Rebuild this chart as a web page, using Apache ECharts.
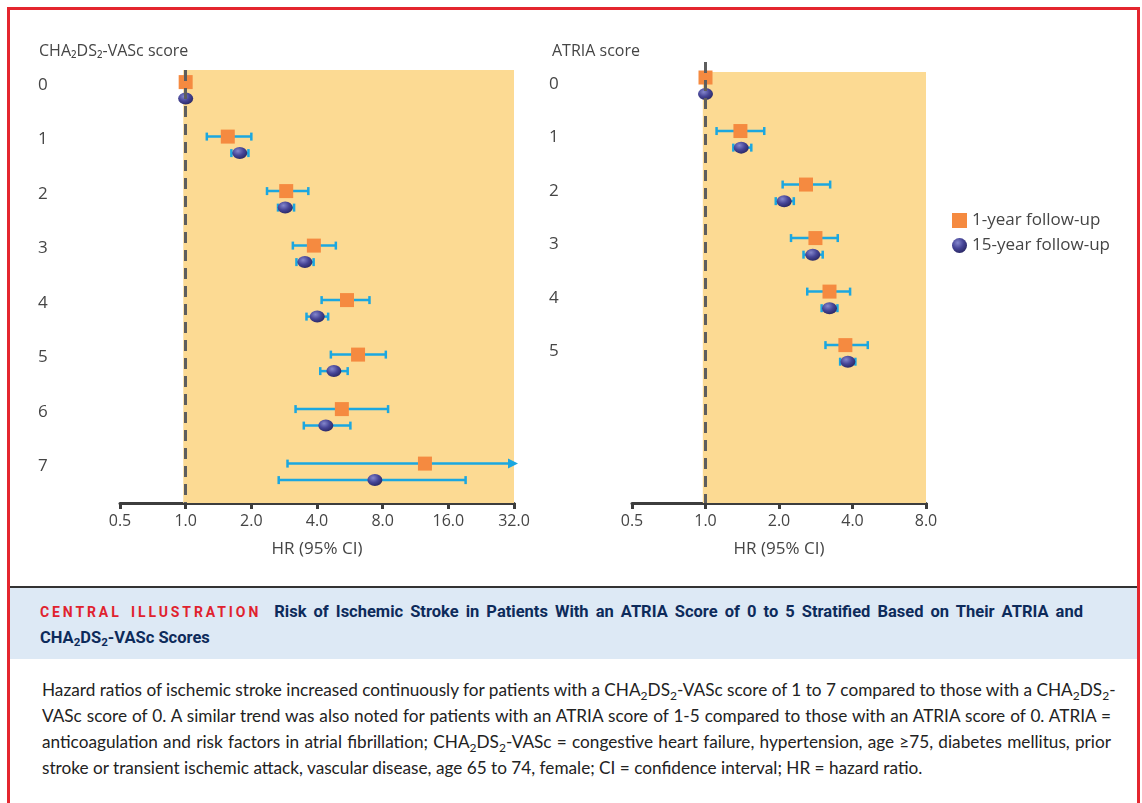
<!DOCTYPE html>
<html>
<head>
<meta charset="utf-8">
<script src="https://cdn.jsdelivr.net/npm/echarts@6/dist/echarts.min.js"></script>
<style>
	html, body { margin: 0; padding: 0; width: 1142px; height: 803px; overflow: hidden; background: #fff; }
	body { font-family: 'Open Sans', 'Noto Sans', sans-serif; color: #222; }
	#frame { position: absolute; left: 7px; top: 7px; width: 1127px; height: 830px; border: 3px solid #e4262e; border-bottom: none; }
	#chart { position: absolute; left: 0; top: 0; width: 1142px; height: 580px; }
	#rule { position: absolute; left: 10px; top: 586px; width: 1127px; height: 2px; background: #333; }
	#band { position: absolute; left: 10px; top: 588px; width: 1127px; height: 71px; background: #dde9f5; }
	#caption { position: absolute; left: 40px; top: 599px; width: 1043px; font-family: 'Roboto', sans-serif; font-weight: bold; font-size: 16.5px; line-height: 25px; color: #0d2b5b; }
	#caption div { white-space: nowrap; text-align: justify; text-align-last: justify; }
	#caption div.last { text-align-last: left; }
	#caption .tag { color: #e0222e; font-size: 14px; letter-spacing: 2.9px; margin-right: 6px; }
	#desc { position: absolute; left: 42px; top: 677px; width: 1069px; font-family: 'Lato', 'Roboto', sans-serif; font-size: 17.2px; line-height: 26px; color: #222; }
	#desc div { white-space: nowrap; text-align: justify; text-align-last: justify; }
	#desc div.last { text-align-last: left; }
	sub { font-size: 0.7em; line-height: 0; vertical-align: -0.3em; }
</style>
</head>
<body>
<div id="frame"></div>
<div id="chart"></div>
<div id="rule"></div>
<div id="band"></div>
<div id="caption">
	<div><span class="tag">CENTRAL ILLUSTRATION</span> Risk of Ischemic Stroke in Patients With an ATRIA Score of 0 to 5 Stratified Based on Their ATRIA and</div>
	<div class="last">CHA<sub>2</sub>DS<sub>2</sub>-VASc Scores</div>
</div>
<div id="desc">
	<div>Hazard ratios of ischemic stroke increased continuously for patients with a CHA<sub>2</sub>DS<sub>2</sub>-VASc score of 1 to 7 compared to those with a CHA<sub>2</sub>DS<sub>2</sub>-</div>
	<div>VASc score of 0. A similar trend was also noted for patients with an ATRIA score of 1-5 compared to those with an ATRIA score of 0. ATRIA =</div>
	<div>anticoagulation and risk factors in atrial fibrillation; CHA<sub>2</sub>DS<sub>2</sub>-VASc = congestive heart failure, hypertension, age ≥75, diabetes mellitus, prior</div>
	<div class="last">stroke or transient ischemic attack, vascular disease, age 65 to 74, female; CI = confidence interval; HR = hazard ratio.</div>
</div>
<script>
	/*----Data----*/
	var chaRows = ['0', '1', '2', '3', '4', '5', '6', '7'];
	var chaOneHr = [1.0, 1.56, 2.89, 3.87, 5.49, 6.17, 5.20, 12.5];
	var chaOneLo = [1.0, 1.25, 2.36, 3.10, 4.20, 4.63, 3.19, 2.93];
	var chaOneHi = [1.0, 2.00, 3.65, 4.88, 6.96, 8.27, 8.47, 40];
	var chaFifHr = [1.0, 1.77, 2.86, 3.52, 4.01, 4.78, 4.39, 7.37];
	var chaFifLo = [1.0, 1.62, 2.65, 3.22, 3.58, 4.14, 3.48, 2.67];
	var chaFifHi = [1.0, 1.94, 3.14, 3.86, 4.50, 5.53, 5.69, 19.2];

	var atriaRows = ['0', '1', '2', '3', '4', '5'];
	var atriaOneHr = [1.0, 1.39, 2.58, 2.82, 3.22, 3.74];
	var atriaOneLo = [1.0, 1.11, 2.07, 2.24, 2.61, 3.10];
	var atriaOneHi = [1.0, 1.74, 3.24, 3.48, 3.91, 4.62];
	var atriaFifHr = [1.0, 1.40, 2.10, 2.75, 3.22, 3.83];
	var atriaFifLo = [1.0, 1.30, 1.94, 2.52, 2.99, 3.56];
	var atriaFifHi = [1.0, 1.54, 2.30, 3.02, 3.47, 4.11];

	var chaTicks = [0.5, 1, 2, 4, 8, 16, 32];
	var atriaTicks = [0.5, 1, 2, 4, 8];
	var legendNames = ['1-year follow-up', '15-year follow-up'];

	var barColor = '#1ba7e0';
	var textColor = '#454545';
	var ballColor = {
		type: 'radial', x: 0.38, y: 0.32, r: 0.75,
		colorStops: [{ offset: 0, color: '#8486cc' }, { offset: 0.5, color: '#464597' }, { offset: 1, color: '#26245e' }]
	};

	function errorBar(xMax) {
		return function(params, api) {
			var lo = api.value(0), hi = api.value(1), y = api.value(2);
			if (lo === hi) return;
			var open = hi > xMax;
			var a = api.coord([lo, y]);
			var b = api.coord([open ? xMax : hi, y]);
			var cap = 4;
			var style = { stroke: barColor, lineWidth: 2.5 };
			var kids = [
				{ type: 'line', shape: { x1: a[0], y1: a[1], x2: b[0], y2: b[1] }, style: style },
				{ type: 'line', shape: { x1: a[0], y1: a[1] - cap, x2: a[0], y2: a[1] + cap }, style: style }
			];
			if (open) {
				kids.push({ type: 'polygon', shape: { points: [[b[0] + 4, b[1]], [b[0] - 6, b[1] - 5], [b[0] - 6, b[1] + 5]] }, style: { fill: barColor } });
			} else {
				kids.push({ type: 'line', shape: { x1: b[0], y1: b[1] - cap, x2: b[0], y2: b[1] + cap }, style: style });
			}
			return { type: 'group', children: kids };
		};
	}

	function rowsOf(vals, lo, hi, off, withCi) {
		return vals.map(function(v, i) {
			return withCi ? [lo[i], hi[i], i + off] : [v, i + off];
		});
	}

	function xAxisFor(idx, ticks) {
		return {
			gridIndex: idx, type: 'log', logBase: 2,
			min: ticks[0], max: ticks[ticks.length - 1],
			name: 'HR (95% CI)', nameLocation: 'middle', nameGap: 38,
			nameTextStyle: { fontSize: 17, color: textColor },
			axisLine: { onZero: false, lineStyle: { color: '#3d3d3d', width: 3 } },
			axisTick: { customValues: ticks, length: 6, lineStyle: { color: '#3d3d3d', width: 3 } },
			axisLabel: { customValues: ticks, margin: 10, fontSize: 16, color: textColor, formatter: function(v) { return v.toFixed(1); } },
			splitLine: { show: false }
		};
	}

	function yAxisFor(idx, rows, min, max, margin) {
		return {
			gridIndex: idx, type: 'value', inverse: true, min: min, max: max,
			axisLine: { show: false }, axisTick: { show: false }, splitLine: { show: false },
			axisLabel: {
				customValues: rows.map(function(r, i) { return i; }),
				align: 'left', margin: margin, fontSize: 17, color: textColor,
				formatter: function(v) { return rows[Math.round(v)]; }
			}
		};
	}

	function panel(idx, xMax, oneHr, oneLo, oneHi, fifHr, fifLo, fifHi, sqOff, ballOff, bgTop) {
		return [{
			type: 'line', xAxisIndex: idx, yAxisIndex: idx, data: [], z: 0, silent: true,
			markArea: { silent: true, itemStyle: { color: '#fcda93' }, data: [[{ xAxis: 0.975, yAxis: bgTop }, { xAxis: xMax, yAxis: 'max' }]] }
		}, {
			type: 'line', xAxisIndex: idx, yAxisIndex: idx, data: [], z: 1, silent: true,
			markLine: { silent: true, symbol: 'none', label: { show: false }, lineStyle: { color: '#5e5e5e', width: 3, type: [11, 7] }, data: [{ xAxis: 1 }] }
		}, {
			type: 'custom', xAxisIndex: idx, yAxisIndex: idx, z: 2, silent: true,
			renderItem: errorBar(xMax), encode: { x: [0, 1], y: 2 },
			data: rowsOf(oneHr, oneLo, oneHi, sqOff, true)
		}, {
			type: 'custom', xAxisIndex: idx, yAxisIndex: idx, z: 2, silent: true,
			renderItem: errorBar(xMax), encode: { x: [0, 1], y: 2 },
			data: rowsOf(fifHr, fifLo, fifHi, ballOff, true)
		}, {
			name: legendNames[0], type: 'scatter', xAxisIndex: idx, yAxisIndex: idx, z: 3,
			symbol: 'rect', symbolSize: 14, itemStyle: { color: '#f58a40', opacity: 1 },
			data: rowsOf(oneHr, null, null, sqOff, false)
		}, {
			name: legendNames[1], type: 'scatter', xAxisIndex: idx, yAxisIndex: idx, z: 3,
			symbol: 'circle', symbolSize: [15, 12], itemStyle: { color: ballColor, opacity: 1 },
			data: rowsOf(fifHr, null, null, ballOff, false)
		}];
	}

	/*----Forest plots----*/
	var chart = echarts.init(document.getElementById('chart'));
	var option = {
		animation: false,
		textStyle: { fontFamily: "'Open Sans', 'Noto Sans', sans-serif" },
		title: [{
			text: 'CHA₂DS₂-VASc score', left: 34, top: 38,
			textStyle: { fontSize: 16, fontWeight: 'normal', color: textColor }
		}, {
			text: 'ATRIA score', left: 547, top: 38,
			textStyle: { fontSize: 16, fontWeight: 'normal', color: textColor }
		}],
		legend: {
			data: legendNames, orient: 'vertical', left: 947, top: 207,
			itemWidth: 15, itemHeight: 15, itemGap: 8,
			textStyle: { fontSize: 17, color: textColor }
		},
		grid: [
			{ left: 120, right: 628, top: 70, bottom: 77 },
			{ left: 632, right: 216, top: 62, bottom: 77 }
		],
		xAxis: [xAxisFor(0, chaTicks), xAxisFor(1, atriaTicks)],
		yAxis: [
			yAxisFor(0, chaRows, -0.275, 7.67, 82),
			yAxisFor(1, atriaRows, -0.41, 7.83, 83)
		],
		series: panel(0, 32, chaOneHr, chaOneLo, chaOneHi, chaFifHr, chaFifLo, chaFifHi, -0.053, 0.25, -0.275)
			.concat(panel(1, 8, atriaOneHr, atriaOneLo, atriaOneHi, atriaFifHr, atriaFifLo, atriaFifHi, -0.12, 0.19, -0.224))
	};
	chart.setOption(option);
</script>
</body>
</html>
